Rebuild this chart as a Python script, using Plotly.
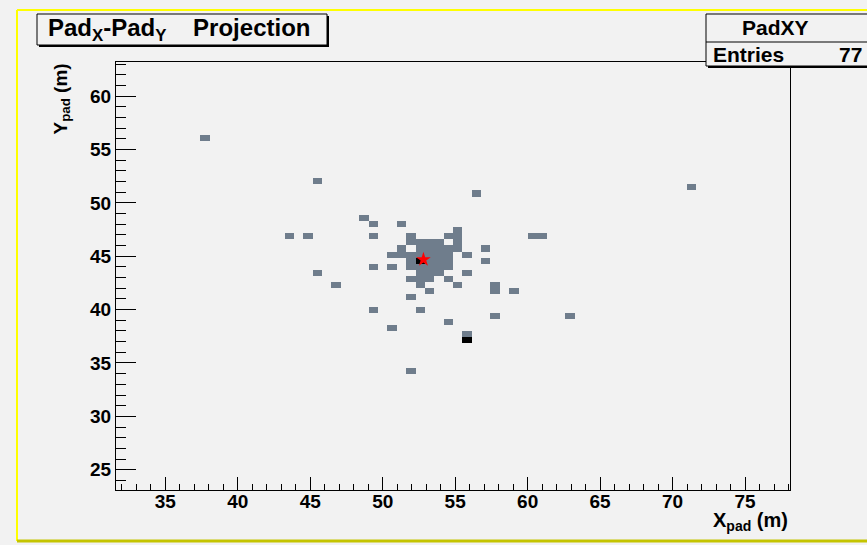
import numpy as np
import plotly.graph_objects as go

# ---------------- data ----------------
hist_name = "PadXY"
entries = 77
x_range = [31.6, 78.1]
y_range = [23.1, 63.2]
n_xbins = 72
n_ybins = 70

# filled cells: centre x, centre y (m), content
cell_x = [37.74, 45.49, 56.46, 71.32, 48.72, 49.36, 51.30, 43.55, 44.84, 49.36,
          60.34, 60.98, 57.11, 57.11, 49.36, 50.65, 45.49, 55.82, 46.78, 55.17,
          57.76, 57.76, 59.05, 53.24, 51.94, 49.36, 52.59, 57.76, 62.92, 54.53,
          50.65, 55.82, 55.82, 51.94,
          55.17,
          51.94, 54.53, 55.17,
          51.94, 52.59, 53.24, 53.88, 55.17,
          51.30, 52.59, 53.24, 53.88, 54.53, 55.17,
          50.65, 51.30, 51.94, 52.59, 53.24, 53.88, 54.53, 55.82,
          51.94, 52.59, 53.24, 53.88, 54.53,
          51.94, 52.59, 53.24, 53.88, 54.53,
          52.59, 53.24, 53.88,
          51.94, 52.59, 53.24, 54.53,
          52.59]
cell_y = [56.04, 52.03, 50.89, 51.46, 48.60, 48.02, 48.02, 46.88, 46.88, 46.88,
          46.88, 46.88, 45.73, 44.59, 44.01, 44.01, 43.44, 43.44, 42.29, 42.29,
          42.29, 41.72, 41.72, 41.72, 41.15, 40.00, 40.00, 39.43, 39.43, 38.86,
          38.28, 37.71, 37.14, 34.27,
          47.45,
          46.88, 46.88, 46.88,
          46.30, 46.30, 46.30, 46.30, 46.30,
          45.73, 45.73, 45.73, 45.73, 45.73, 45.73,
          45.16, 45.16, 45.16, 45.16, 45.16, 45.16, 45.16, 45.16,
          44.59, 44.59, 44.59, 44.59, 44.59,
          44.01, 44.01, 44.01, 44.01, 44.01,
          43.44, 43.44, 43.44,
          42.87, 42.87, 42.87, 42.87,
          42.29]
cell_n = [1] * 32 + [2, 1] + [1] + [1] * 3 + [1] * 5 + [1] * 6 + [1] * 8 + \
         [1, 2, 1, 1, 1] + [1] * 5 + [1] * 3 + [1] * 4 + [1]

# reconstructed hit (red star)
star_x = [52.81]
star_y = [44.69]

x_ticks = [35, 40, 45, 50, 55, 60, 65, 70, 75]
y_ticks = [25, 30, 35, 40, 45, 50, 55, 60]

# ---------------- build histogram ----------------
x_edges = np.linspace(x_range[0], x_range[1], n_xbins + 1)
y_edges = np.linspace(y_range[0], y_range[1], n_ybins + 1)
H, _, _ = np.histogram2d(cell_x, cell_y, bins=[x_edges, y_edges], weights=cell_n)
Z = H.T
z = [[(float(v) if v > 0 else None) for v in row] for row in Z]
dx = x_edges[1] - x_edges[0]
dy = y_edges[1] - y_edges[0]

BG = "#f2f2f2"
GRAY = "#6f7d8c"
FONT = "Liberation Sans, Arial, sans-serif"

fig = go.Figure()
fig.add_trace(go.Heatmap(
    z=z, x0=x_edges[0] + dx / 2, dx=dx, y0=y_edges[0] + dy / 2, dy=dy,
    zmin=1, zmax=2, showscale=False, hoverongaps=False,
    colorscale=[[0, GRAY], [0.5, GRAY], [0.5, "#000000"], [1, "#000000"]],
))
fig.add_trace(go.Scatter(
    x=star_x, y=star_y, mode="markers",
    marker=dict(symbol="star", color="red", size=11, line=dict(width=0)),
    showlegend=False,
))

# frame geometry in pixels
L, R, T, B = 116, 790, 62, 490
W, Hh = 867, 545


def px(xp):
    return (xp - L) / (R - L)


def py(yp):
    return (B - yp) / (B - T)


shapes = []
# pad border (yellow)
shapes.append(dict(type="line", xref="paper", yref="paper", x0=px(17), x1=px(17),
                   y0=py(10), y1=py(541), line=dict(color="#ffff00", width=2)))
shapes.append(dict(type="line", xref="paper", yref="paper", x0=px(17), x1=px(880),
                   y0=py(10), y1=py(10), line=dict(color="#ffff00", width=2)))
shapes.append(dict(type="line", xref="paper", yref="paper", x0=px(17), x1=px(880),
                   y0=py(541), y1=py(541), line=dict(color="#c4c400", width=3)))
# title box with shadow
shapes.append(dict(type="rect", xref="paper", yref="paper", x0=px(39), x1=px(329),
                   y0=py(47), y1=py(16), fillcolor="#000000", line=dict(width=0)))
shapes.append(dict(type="rect", xref="paper", yref="paper", x0=px(37), x1=px(327),
                   y0=py(45), y1=py(14), fillcolor=BG, line=dict(color="black", width=1)))
# stats box with shadow
shapes.append(dict(type="rect", xref="paper", yref="paper", x0=px(708), x1=px(890),
                   y0=py(68), y1=py(16), fillcolor="#000000", line=dict(width=0)))
shapes.append(dict(type="rect", xref="paper", yref="paper", x0=px(706), x1=px(887),
                   y0=py(66), y1=py(14), fillcolor=BG, line=dict(color="black", width=1)))
shapes.append(dict(type="line", xref="paper", yref="paper", x0=px(706), x1=px(887),
                   y0=py(42), y1=py(42), line=dict(color="black", width=1)))

bold = dict(family=FONT, size=21, color="black", weight="bold")
annotations = [
    dict(xref="paper", yref="paper", x=px(46), y=py(29), xanchor="left", yanchor="middle",
         text="Pad<sub>X</sub>-Pad<sub>Y</sub>&nbsp;&nbsp;&nbsp;&nbsp;Projection",
         showarrow=False, font=dict(bold, size=24)),
    dict(xref="paper", yref="paper", x=px(775), y=py(28), xanchor="center", yanchor="middle",
         text=hist_name, showarrow=False, font=bold),
    dict(xref="paper", yref="paper", x=px(711), y=py(55), xanchor="left", yanchor="middle",
         text="Entries", showarrow=False, font=bold),
    dict(xref="paper", yref="paper", x=px(864), y=py(55), xanchor="right", yanchor="middle",
         text=str(entries), showarrow=False, font=bold),
    dict(xref="paper", yref="paper", x=1, y=py(521), xanchor="right", yanchor="middle",
         text="X<sub>pad</sub> (m)", showarrow=False, font=dict(bold, size=20)),
    dict(xref="paper", yref="paper", x=px(61), y=1, xanchor="center", yanchor="top",
         text="Y<sub>pad</sub> (m)", textangle=-90, showarrow=False, font=dict(bold, size=19)),
]

axis_common = dict(showgrid=False, zeroline=False, showline=True, linecolor="black",
                   linewidth=1, mirror=True, ticks="inside", tickcolor="black",
                   tickwidth=1, tickfont=dict(family=FONT, size=19, color="black", weight="bold"))

fig.update_layout(
    width=W, height=Hh, autosize=False,
    margin=dict(l=L, r=W - R, t=T, b=Hh - B, pad=0),
    paper_bgcolor=BG, plot_bgcolor=BG,
    showlegend=False,
    shapes=shapes, annotations=annotations,
    xaxis=dict(axis_common, range=x_range, tickvals=x_ticks, ticklen=13,
               ticklabelstandoff=-6,
               minor=dict(dtick=1, tick0=35, ticklen=6, ticks="inside", tickcolor="black")),
    yaxis=dict(axis_common, range=y_range, tickvals=y_ticks, ticklen=20,
               minor=dict(dtick=1, tick0=25, ticklen=10, ticks="inside", tickcolor="black")),
)

fig.write_html(
    "out.html",
    config={"displayModeBar": False},
    post_script="document.body.style.margin='0';document.body.style.background='#f2f2f2';",
)
